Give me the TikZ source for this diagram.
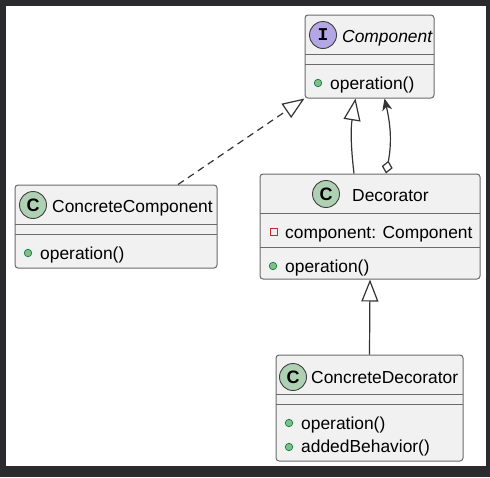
\documentclass[tikz,border=0pt]{standalone}
\usepackage{fontspec}
\setmainfont{Liberation Sans}
\newfontfamily\spotfont{Liberation Mono}
\usetikzlibrary{arrows.meta}
\definecolor{frame}{HTML}{2B2B2E}
\definecolor{boxfill}{HTML}{F1F1F1}
\definecolor{boxline}{HTML}{6A6A6A}
\definecolor{spotc}{HTML}{ADD1B2}
\definecolor{spoti}{HTML}{B4A7E5}
\definecolor{pubfill}{HTML}{84BE84}
\definecolor{publine}{HTML}{038048}
\definecolor{privline}{HTML}{C82930}
\definecolor{linkcol}{HTML}{333333}
\tikzset{
  classbox/.style={draw=boxline,fill=boxfill,line width=1pt,rounded corners=3pt,inner sep=0pt},
  spot/.style={shape=circle,draw=boxline!60!black,line width=0.9pt,minimum size=27pt,inner sep=0pt,font=\fontsize{18}{18}\selectfont\bfseries},
  classname/.style={anchor=base west,inner sep=0pt,font=\fontsize{17.4}{20}\selectfont},
  member/.style={anchor=base west,inner sep=0pt,font=\fontsize{17.4}{20}\selectfont},
  pub/.style={shape=circle,fill=pubfill,draw=publine,line width=0.7pt,minimum size=7.5pt,inner sep=0pt},
  priv/.style={shape=rectangle,draw=privline,line width=0.9pt,minimum size=7pt,inner sep=0pt},
  divider/.style={draw=boxline,line width=1pt},
  connector/.style={draw=linkcol,line width=1.2pt},
  realizes/.style={connector,dash pattern=on 7pt off 5pt,-{Triangle[open,length=22pt,width=17pt]}},
  extends/.style={connector,-{Triangle[open,length=22pt,width=17pt]}},
  aggregates/.style={connector,{Diamond[open,length=13pt,width=11pt]}-{Stealth[length=12pt,width=10pt,inset=3.5pt]}}
}
\begin{document}
\begin{tikzpicture}[x=1pt,y=-1pt]
\path[use as bounding box] (0,0) rectangle (490,477);
\fill[frame] (0,0) rectangle (490,477);
\fill[white] (6,6) rectangle (486,466);

% Component
\node(component) at (369.5,56.5)[classbox,minimum width=129pt,minimum height=83pt]{};
\draw[divider] (305,54) -- (434,54);
\draw[divider] (305,64) -- (434,64);
\node(componentSpot) at (323,35)[spot,fill=spoti]{\spotfont I};
\node(componentName) at (342,42)[classname]{\itshape Component};
\node(componentOpDot) at (318,83)[pub]{};
\node(componentOp) at (330,89)[member]{operation()};

% ConcreteComponent
\node(cc) at (116,226.5)[classbox,minimum width=202pt,minimum height=83pt]{};
\draw[divider] (15,224) -- (217,224);
\draw[divider] (15,234) -- (217,234);
\node(ccSpot) at (33,205)[spot,fill=spotc]{C};
\node(ccName) at (52,212)[classname]{ConcreteComponent};
\node(ccOpDot) at (28,253)[pub]{};
\node(ccOp) at (40,259)[member]{operation()};

% Decorator
\node(decorator) at (370,226.5)[classbox,minimum width=220pt,minimum height=105pt]{};
\draw[divider] (260,213) -- (480,213);
\draw[divider] (260,247) -- (480,247);
\node(decoratorSpot) at (326,194)[spot,fill=spotc]{C};
\node(decoratorName) at (352,201)[classname]{Decorator};
\node(decoratorAttrBox) at (274,232)[priv]{};
\node(decoratorAttr) at (285,238)[member]{component: Component};
\node(decoratorOpDot) at (273,266)[pub]{};
\node(decoratorOp) at (285,272)[member]{operation()};

% ConcreteDecorator
\node(cd) at (369.5,408)[classbox,minimum width=187pt,minimum height=106pt]{};
\draw[divider] (276,394) -- (463,394);
\draw[divider] (276,404) -- (463,404);
\node(cdSpot) at (293,377)[spot,fill=spotc]{C};
\node(cdName) at (311,383)[classname]{ConcreteDecorator};
\node(cdOpDot) at (289,423)[pub]{};
\node(cdOp) at (301,429)[member]{operation()};
\node(cdAddDot) at (289,447)[pub]{};
\node(cdAdd) at (301,452)[member]{addedBehavior()};

\path[realizes] ([xshift=62pt]cc.north) -- (component.south west);
\path[extends] ([xshift=-16pt]decorator.north) to[bend left=8] ([xshift=-14pt]component.south);
\path[aggregates] ([xshift=16pt]decorator.north) to[bend right=12] ([xshift=15pt]component.south);
\path[extends] (cd.north) -- (decorator.south);

\end{tikzpicture}
\end{document}
